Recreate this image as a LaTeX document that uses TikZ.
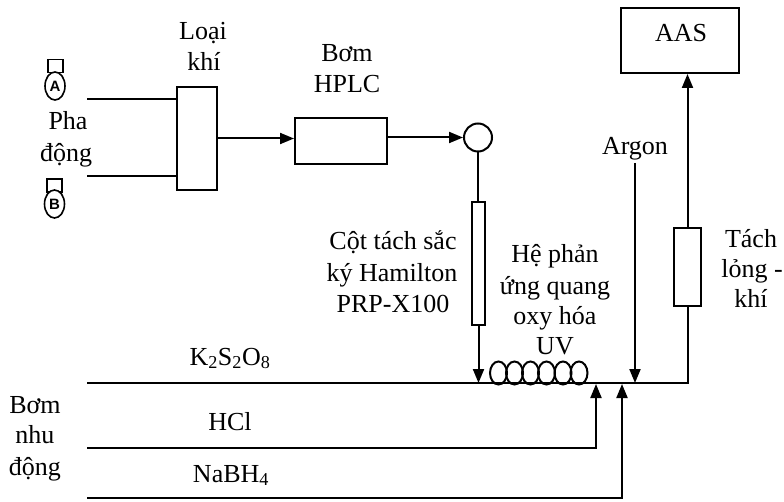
\documentclass[tikz,border=0pt]{standalone}
\usepackage{fontspec}
\setmainfont{Liberation Serif}
\newfontfamily\lettersans{Liberation Sans}
\usetikzlibrary{arrows.meta,shapes.geometric}
\tikzset{
  wire/.style={draw=black,line width=2pt},
  flow/.style={wire,-{Triangle[length=14pt,width=11pt]}},
  unit/.style={draw=black,line width=2pt,fill=white,inner sep=0pt,rectangle},
  lbl/.style={font=\fontsize{26}{26}\selectfont,inner sep=0pt,anchor=base,align=center},
  coilloop/.style={draw=black,line width=2pt,ellipse,minimum width=17pt,minimum height=23pt,inner sep=0pt},
  bottle/.style={draw=black,line width=1.6pt,ellipse,fill=white,minimum width=20pt,minimum height=28pt,inner sep=0pt,font=\lettersans\fontsize{15}{15}\selectfont\bfseries},
  bottlecap/.style={draw=black,line width=1.4pt,fill=white,minimum width=15pt,minimum height=13pt,inner sep=0pt,rectangle}
}
\begin{document}
\begin{tikzpicture}[x=1pt,y=-1pt]
\useasboundingbox (0,0) rectangle (784,502);
% units
\node[unit,minimum width=40pt,minimum height=103pt] (deg) at (197,138.5) {};
\node[unit,minimum width=92pt,minimum height=46pt] (hplc) at (341,141) {};
\node[unit,circle,minimum size=28pt] (inj) at (478,137.5) {};
\node[unit,minimum width=13pt,minimum height=123pt] (col) at (478.5,263.5) {};
\node[unit,minimum width=27pt,minimum height=78pt] (sep) at (687.5,267) {};
\node[unit,minimum width=118pt,minimum height=65pt] (aas) at (680,40.5) {};
% bottles
\node[bottlecap] (capA) at (55.5,66) {};
\node[bottle] (botA) at (55,86) {A};
\node[bottlecap] (capB) at (54.5,185.5) {};
\node[bottle] (botB) at (54.5,204) {B};
% free ends
\coordinate (aS) at (87,99);
\coordinate (aE) at (deg.west |- aS);
\coordinate (bS) at (87,176);
\coordinate (bE) at (deg.west |- bS);
\coordinate (mainS) at (87,383);
\coordinate (colE) at (col.south |- mainS);
\coordinate (argS) at (635,163);
\coordinate (argE) at (635,383);
\coordinate (mainE) at (sep.south |- mainS);
\coordinate (hclS) at (87,448);
\coordinate (hclE) at (596,384);
\coordinate (nabS) at (87,498);
\coordinate (nabE) at (622,384);
% connectors
\draw[wire] (aS) -- (aE);
\draw[wire] (bS) -- (bE);
\draw[flow] (deg.east) -- (hplc.west |- deg.east);
\draw[flow] (hplc.east |- inj.west) -- (inj.west);
\draw[wire] (inj.south) -- (col.north -| inj.south);
\draw[flow] (col.south) -- (colE);
\draw[wire] (mainS) -- (mainE) -- (sep.south);
\draw[flow] (sep.north) -- (aas.south -| sep.north);
\draw[flow] (argS) -- (argE);
\draw[flow] (hclS) -| (hclE);
\draw[flow] (nabS) -| (nabE);
% coil
\node[coilloop] (c1) at (498.5,373) {};
\node[coilloop] (c2) at (514.5,373) {};
\node[coilloop] (c3) at (530.5,373) {};
\node[coilloop] (c4) at (546.5,373) {};
\node[coilloop] (c5) at (563,373) {};
\node[coilloop] (c6) at (579,373) {};
% labels
\node[lbl] (t1) at (203,40) {Loại};
\node[lbl] (t2) at (204,71) {khí};
\node[lbl] (t3) at (347,62) {Bơm};
\node[lbl] (t4) at (347,93) {HPLC};
\node[lbl] (t5) at (68,130) {Pha};
\node[lbl] (t6) at (66,162) {động};
\node[lbl] (t7) at (393,250) {Cột tách sắc};
\node[lbl] (t8) at (392,282) {ký Hamilton};
\node[lbl] (t9) at (393,313) {PRP-X100};
\node[lbl] (t10) at (555,263) {Hệ phản};
\node[lbl] (t11) at (555,295) {ứng quang};
\node[lbl] (t12) at (555,325) {oxy hóa};
\node[lbl] (t13) at (555,355) {UV};
\node[lbl] (t14) at (635,155) {Argon};
\node[lbl] (t15) at (751,248) {Tách};
\node[lbl] (t16) at (752,278) {lỏng -};
\node[lbl] (t17) at (751,308) {khí};
\node[lbl] (t18) at (681,42) {AAS};
\node[lbl] (t19) at (230,365) {K\textsubscript{2}S\textsubscript{2}O\textsubscript{8}};
\node[lbl] (t20) at (230,430) {HCl};
\node[lbl] (t21) at (231,482) {NaBH\textsubscript{4}};
\node[lbl] (t22) at (35,413) {Bơm};
\node[lbl] (t23) at (35,443) {nhu};
\node[lbl] (t24) at (35,475) {động};
\end{tikzpicture}
\end{document}
